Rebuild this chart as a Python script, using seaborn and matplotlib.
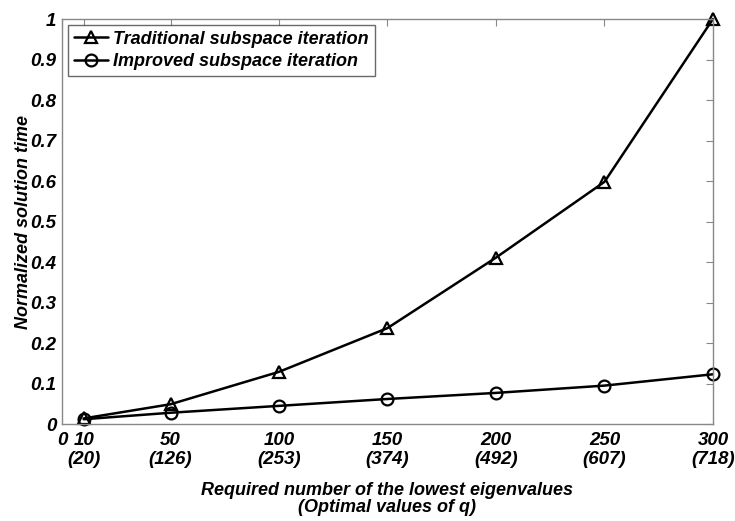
import matplotlib
matplotlib.use("Agg")
import matplotlib.pyplot as plt
import matplotlib.transforms as mtransforms
import seaborn as sns

# values
eigenvalues = [10, 50, 100, 150, 200, 250, 300]
optimal_q = [20, 126, 253, 374, 492, 607, 718]
traditional = [0.014, 0.049, 0.129, 0.237, 0.411, 0.598, 1.0]
improved = [0.012, 0.028, 0.045, 0.062, 0.077, 0.095, 0.123]

sns.set_style("white")
plt.rcParams["font.family"] = ["Liberation Sans", "DejaVu Sans"]
plt.rcParams["font.weight"] = "bold"
plt.rcParams["font.style"] = "italic"
plt.rcParams["text.color"] = "black"
plt.rcParams["axes.labelcolor"] = "black"

fig = plt.figure(figsize=(7.35, 5.21), dpi=100)
ax = fig.add_axes([0.0844, 0.186, 0.8856, 0.7775])

sns.lineplot(x=eigenvalues, y=traditional, ax=ax, color="black", lw=1.8,
             marker="^", markersize=8.5, markerfacecolor="none",
             markeredgecolor="black", markeredgewidth=1.6, clip_on=False,
             label="Traditional subspace iteration")
sns.lineplot(x=eigenvalues, y=improved, ax=ax, color="black", lw=1.8,
             marker="o", markersize=8.5, markerfacecolor="none",
             markeredgecolor="black", markeredgewidth=1.6, clip_on=False,
             label="Improved subspace iteration")

ax.set_xlim(0, 300)
ax.set_ylim(0, 1)
xticks = [0] + eigenvalues
xlabels = ["0"] + [f"{e}\n({q})" for e, q in zip(eigenvalues, optimal_q)]
ax.set_xticks(xticks)
ax.set_xticklabels(xlabels, fontsize=13.5, linespacing=1.15)
yt = [i / 10 for i in range(11)]
ax.set_yticks(yt)
ax.set_yticklabels(["0"] + [f"{v:g}" for v in yt[1:]], fontsize=13.5)

# nudge the lonely "0" labels like the original
off = mtransforms.ScaledTranslation(-4 / 72, 0, fig.dpi_scale_trans)
lab0 = ax.get_xticklabels()[0]
lab0.set_transform(lab0.get_transform() + off)
offy = mtransforms.ScaledTranslation(0, -2 / 72, fig.dpi_scale_trans)
laby0 = ax.get_yticklabels()[0]
laby0.set_transform(laby0.get_transform() + offy)

ax.tick_params(direction="in", length=5, width=0.8, color="#888888",
               top=True, right=True, pad=4, labelcolor="black")
ax.tick_params(axis="x", pad=6)
for s in ax.spines.values():
    s.set_color("#888888")
    s.set_linewidth(1.0)

ax.set_xlabel("Required number of the lowest eigenvalues\n(Optimal values of q)",
              fontsize=13, fontweight="bold", style="italic", labelpad=10,
              linespacing=1.0)
ax.set_ylabel("Normalized solution time", fontsize=13, fontweight="bold",
              style="italic", labelpad=-1)

leg = ax.legend(loc="upper left", fontsize=13, frameon=True, fancybox=False,
                borderaxespad=0.35, handlelength=1.9, handletextpad=0.3,
                borderpad=0.3, labelspacing=0.3)
leg.get_frame().set_edgecolor("#444444")
leg.get_frame().set_linewidth(1.0)
for t in leg.get_texts():
    t.set_color("black")

fig.savefig("out.png", dpi=100)
